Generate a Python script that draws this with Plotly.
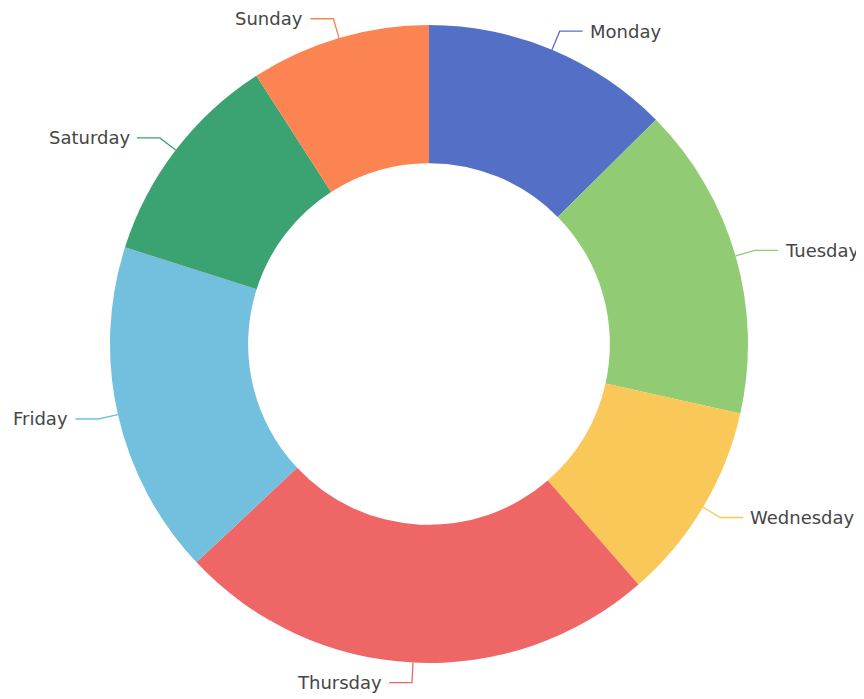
import math
import plotly.graph_objects as go

days = ["Monday", "Tuesday", "Wednesday", "Thursday", "Friday", "Saturday", "Sunday"]
values = [126, 159, 101, 244, 169, 110, 91]
colors = ["#5470c6", "#91cc75", "#fac858", "#ee6666", "#73c0de", "#3ba272", "#fc8452"]

# the page body has an 8px margin, so the figure is drawn 8px smaller and shifted
OFF = 8
W, H = 864 - OFF, 699 - OFF
CX, CY, R = 429 - OFF, 344 - OFF, 319
HOLE = 0.567
LEN1, LEN2, GAP = 20, 23, 5

fig = go.Figure()
fig.add_trace(go.Pie(
    labels=days, values=values, sort=False, direction="clockwise", rotation=0,
    hole=HOLE, textinfo="none", marker=dict(colors=colors, line=dict(width=0)),
    domain=dict(x=[(CX - R) / W, (CX + R) / W], y=[(H - CY - R) / H, (H - CY + R) / H]),
    showlegend=False,
))

total = sum(values)
cum = 0
for d, v, c in zip(days, values, colors):
    mid = (cum + v / 2) / total * 2 * math.pi
    cum += v
    sx, sy = math.sin(mid), -math.cos(mid)
    x0, y0 = CX + R * sx, CY + R * sy
    x1, y1 = CX + (R + LEN1) * sx, CY + (R + LEN1) * sy
    side = 1 if sx >= 0 else -1
    x2 = x1 + side * LEN2
    fig.add_shape(type="path", xref="x", yref="y",
                  path=f"M {x0} {y0} L {x1} {y1} L {x2} {y1}",
                  line=dict(color=c, width=1.3))
    fig.add_annotation(x=x2 + side * GAP, y=y1, xref="x", yref="y", text=d,
                       showarrow=False, xanchor="left" if side > 0 else "right",
                       yanchor="middle",
                       font=dict(family="DejaVu Sans", size=18, color="#464646"))

fig.update_xaxes(range=[0, W], visible=False, domain=[0, 1], fixedrange=True)
fig.update_yaxes(range=[H, 0], visible=False, domain=[0, 1], fixedrange=True)
fig.update_layout(width=W, height=H, margin=dict(l=0, r=0, t=0, b=0),
                  paper_bgcolor="white", plot_bgcolor="rgba(0,0,0,0)")
fig.write_html("out.html")
